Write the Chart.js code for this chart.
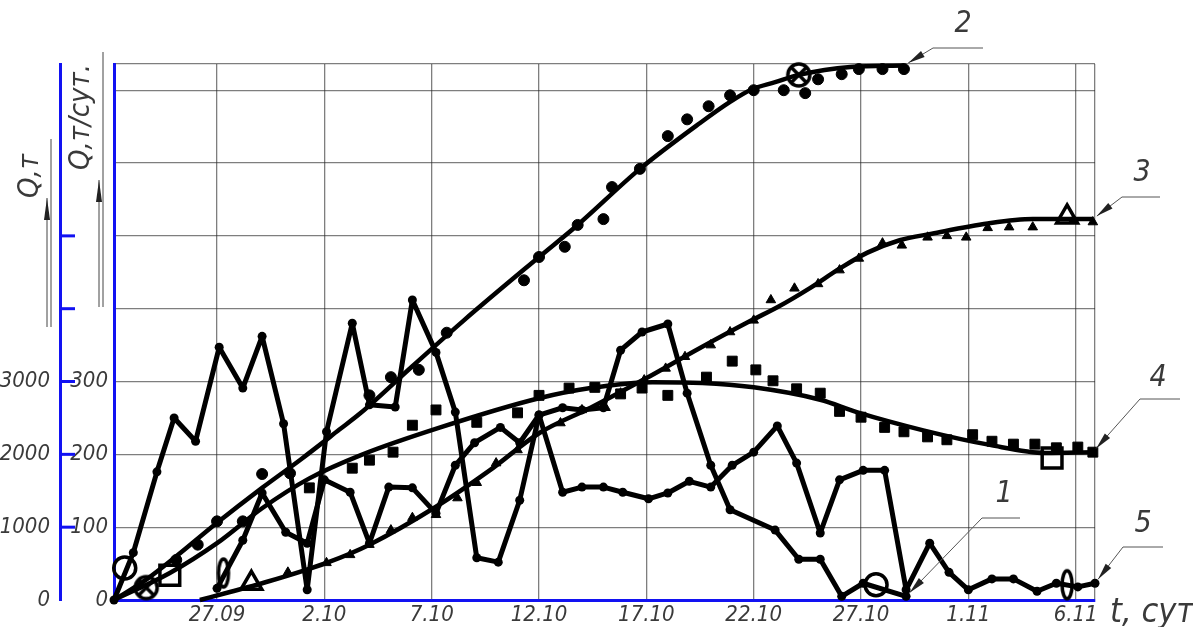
<!DOCTYPE html>
<html>
<head>
<meta charset="utf-8">
<script src="https://cdn.jsdelivr.net/npm/chart.js@4.4.1/dist/chart.umd.min.js"></script>
<style>
  html, body { margin: 0; padding: 0; background: #fff; }
  #wrap { position: relative; width: 1193px; height: 627px; }
</style>
</head>
<body>
<div id="wrap"><canvas id="chart"></canvas></div>
<script>
// days are counted from 22.09, values in т/сут (the outer Q,т axis is x10)
const dateTicks = [5, 10, 15, 20, 25, 30, 35, 40, 45];
const dateLabels = ['27.09', '2.10', '7.10', '12.10', '17.10', '22.10', '27.10', '1.11', '6.11'];
const rateTicks = [0, 100, 200, 300, 400, 500, 600, 700];
const massTicks = [0, 1000, 2000, 3000, 4000, 5000];
const massLabelled = [0, 1000, 2000, 3000];

// 1 - daily output
const s1Days = [0.2, 1.1, 2.2, 3.0, 4.0, 5.1, 6.2, 7.1, 8.1, 9.2, 10.1, 11.3, 12.1, 13.3, 14.1, 15.2, 16.1, 17.1, 18.1, 19.1,
                20.0, 21.1, 22.0, 23.0, 23.8, 24.8, 26.0, 26.9, 28.0, 28.9, 31.0, 32.1, 33.1, 34.1, 35.1, 37.1];
const s1Vals = [0, 65, 176, 250, 218, 347, 291, 362, 242, 14, 231, 380, 268, 265, 412, 340, 258, 58, 52, 137,
                254, 264, 261, 264, 343, 368, 379, 284, 185, 124, 96, 56, 56, 5, 23, 5];

// 5 - daily output, second run
const s5Days = [5.0, 6.2, 7.1, 8.2, 9.2, 10.0, 11.2, 12.1, 13.0, 14.1, 15.2, 16.1, 17.0, 18.2, 19.1, 20.0, 21.1, 22.0, 23.0, 23.9,
                25.1, 26.0, 27.0, 28.0, 29.0, 30.0, 31.1, 32.0, 33.1, 34.0, 35.1, 36.1, 37.1, 38.2, 39.1, 40.0, 41.1, 42.1, 43.2, 44.1, 45.1, 45.9];
const s5Vals = [16, 82, 147, 93, 78, 165, 148, 78, 155, 154, 119, 185, 216, 237, 216, 254, 148, 155, 155, 148,
                139, 147, 163, 155, 185, 203, 239, 188, 92, 165, 178, 178, 14, 78, 38, 14, 29, 29, 12, 23, 18, 23];

// 2 - cumulative, fitted curve and measured points
const c2Days = [0.2, 1.7, 3.1, 5.0, 7.1, 8.9, 10.7, 11.7, 14.1, 16.5, 20.0, 21.8, 24.7, 27.5, 28.9, 29.9, 31.0, 32.1, 34.5, 37.0];
const c2Vals = [0, 28, 60, 106, 154, 193, 234, 257, 321, 384, 471, 515, 592, 655, 684, 701, 711, 721, 732, 734];
const d2Days = [3.1, 4.1, 5.0, 6.2, 7.1, 8.4, 12.1, 13.1, 14.4, 15.7, 19.3, 20.0, 21.2, 21.8, 23.0, 23.4, 24.7, 26.0, 26.9, 27.9,
                28.9, 30.0, 31.4, 32.4, 33.0, 34.1, 34.9, 36.0, 37.0];
const d2Vals = [55, 76, 108, 108, 173, 174, 281, 306, 316, 367, 439, 471, 485, 515, 523, 567, 592, 637, 660, 678,
                693, 700, 700, 696, 715, 722, 729, 729, 729];

// 3 - cumulative, fitted curve and measured points
const c3Days = [4.2, 5.6, 7.1, 10.1, 12.1, 15.2, 17.7, 20.0, 22.4, 24.9, 27.5, 29.9, 31.1, 32.6, 34.0, 35.3, 36.8, 38.3, 40.9, 43.0, 45.8];
const c3Vals = [0, 11, 23, 51, 76, 128, 178, 229, 264, 303, 346, 384, 402, 428, 455, 477, 494, 503, 517, 523, 523];
const d3Days = [8.3, 10.1, 11.2, 12.1, 13.1, 14.1, 15.2, 16.2, 17.1, 18.0, 19.0, 21.0, 22.0, 23.1, 23.8, 24.9, 25.9, 26.8, 28.0, 28.9,
                30.0, 30.8, 31.9, 33.0, 34.0, 34.9, 36.0, 36.9, 38.1, 39.0, 39.9, 40.9, 41.9, 43.0, 44.9, 45.8];
const d3Vals = [38, 51, 62, 76, 96, 113, 117, 140, 161, 188, 206, 243, 261, 264, 284, 302, 318, 334, 350, 368,
                384, 412, 428, 434, 453, 469, 490, 487, 498, 500, 498, 511, 512, 512, 522, 519];

// 4 - fitted curve and measured points
const c4Days = [0.2, 2.8, 5.0, 7.1, 9.3, 11.7, 15.4, 20.0, 22.4, 25.3, 27.6, 30.0, 33.1, 34.8, 37.9, 41.0, 43.6, 45.8];
const c4Vals = [0, 37, 78, 126, 167, 199, 237, 277, 291, 299, 298, 292, 275, 258, 233, 213, 202, 203];
const d4Days = [9.3, 11.3, 12.1, 13.2, 14.1, 15.2, 17.1, 19.0, 20.0, 21.4, 22.6, 23.8, 24.8, 26.0, 27.8, 29.0, 30.1, 30.9, 32.0, 33.1,
                34.0, 35.0, 36.1, 37.0, 38.1, 39.0, 40.2, 41.1, 42.1, 43.1, 44.1, 45.1, 45.8];
const d4Vals = [154, 181, 192, 203, 240, 261, 244, 257, 281, 291, 292, 283, 291, 281, 306, 328, 316, 301, 290, 284,
                259, 251, 237, 231, 224, 220, 227, 218, 214, 214, 209, 210, 203];

// curve symbols at the start and end of each line
const m1Days = [0.7, 35.7], m1Vals = [44, 21];
const m2Days = [1.7, 32.1], m2Vals = [17, 721];
const m3Days = [6.6, 44.6], m3Vals = [23, 526];
const m4Days = [2.8, 43.9], m4Vals = [34, 195];
const m5Days = [5.3, 44.6], m5Vals = [37, 21];

const BLUE = '#1212f2';
const INK = '#000';
const TEXT = '#3a3a3a';
const FONT = "'Liberation Sans Narrow', 'DejaVu Sans Condensed', sans-serif";

const pts = (xs, ys) => xs.map((x, i) => ({ x, y: ys[i] }));

function symbolCanvas(draw, w, h) {
    const c = document.createElement('canvas');
    c.width = w; c.height = h;
    const g = c.getContext('2d');
    g.strokeStyle = INK; g.lineWidth = 3.5;
    draw(g, w / 2, h / 2);
    return c;
}
const otimes = symbolCanvas((g, cx, cy) => {
    g.beginPath(); g.arc(cx, cy, 11, 0, Math.PI * 2); g.stroke();
    g.beginPath();
    g.moveTo(cx - 8, cy - 8); g.lineTo(cx + 8, cy + 8);
    g.moveTo(cx + 8, cy - 8); g.lineTo(cx - 8, cy + 8);
    g.stroke();
}, 28, 28);
const lens = symbolCanvas((g, cx, cy) => {
    g.beginPath(); g.ellipse(cx, cy, 5, 14, 0, 0, Math.PI * 2); g.stroke();
}, 16, 34);

const zigzag = (days, vals) => ({
    data: pts(days, vals), borderColor: INK, borderWidth: 5, tension: 0, borderJoinStyle: 'round',
    pointRadius: 4.5, pointBackgroundColor: INK, pointBorderWidth: 0, clip: false
});
const curve = (days, vals) => ({
    data: pts(days, vals), borderColor: INK, borderWidth: 4.5,
    cubicInterpolationMode: 'monotone', pointRadius: 0, clip: false
});
const dots = (days, vals, style, r) => ({
    data: pts(days, vals), showLine: false, pointStyle: style, pointRadius: r,
    pointBackgroundColor: INK, pointBorderColor: INK, pointBorderWidth: 1, clip: false
});
const symbol = (days, vals, style, r) => ({
    data: pts(days, vals), showLine: false, pointStyle: style, pointRadius: r,
    pointBackgroundColor: 'rgba(0,0,0,0)', pointBorderColor: INK, pointBorderWidth: 3.5, clip: false
});

function arrow(ctx, x0, y0, x1, y1, len, half) {
    ctx.beginPath(); ctx.moveTo(x0, y0); ctx.lineTo(x1, y1); ctx.stroke();
    const a = Math.atan2(y1 - y0, x1 - x0);
    const bx = x1 - len * Math.cos(a), by = y1 - len * Math.sin(a);
    ctx.beginPath();
    ctx.moveTo(x1, y1);
    ctx.lineTo(bx + half * Math.sin(a), by - half * Math.cos(a));
    ctx.lineTo(bx - half * Math.sin(a), by + half * Math.cos(a));
    ctx.closePath(); ctx.fill();
}

// leader lines: shelf [x0, x1, y], number position
const callouts = [
    { text: '2', days: c2Days, vals: c2Vals, shelf: [933, 983, 48], at: [963, 24] },
    { text: '3', days: c3Days, vals: c3Vals, shelf: [1122, 1160, 197], at: [1142, 173] },
    { text: '4', days: c4Days, vals: c4Vals, shelf: [1140, 1180, 399], at: [1158, 378] },
    { text: '1', days: s1Days, vals: s1Vals, shelf: [982, 1020, 518], at: [1004, 494] },
    { text: '5', days: s5Days, vals: s5Vals, shelf: [1123, 1163, 547], at: [1143, 524] },
];

const decor = {
    id: 'decor',
    afterDraw(chart) {
        const { ctx, scales } = chart;
        const x = scales.x, y = scales.y, yt = scales.yt;
        ctx.save();

        // short marks on the outer Q,т axis
        ctx.strokeStyle = BLUE; ctx.lineWidth = 3;
        massTicks.slice(1).forEach(v => {
            const py = yt.getPixelForValue(v);
            ctx.beginPath(); ctx.moveTo(yt.right - 1, py); ctx.lineTo(yt.right + 15, py); ctx.stroke();
        });

        // axis names
        ctx.fillStyle = TEXT;
        ctx.textAlign = 'center'; ctx.textBaseline = 'middle';
        ctx.font = `italic 29px ${FONT}`;
        [['Q,т', 30, 176], ['Q,т/сут.', 81, 117]].forEach(([t, tx, ty]) => {
            ctx.save(); ctx.translate(tx, ty); ctx.rotate(-Math.PI / 2); ctx.fillText(t, 0, 0); ctx.restore();
        });
        ctx.font = `italic 34px ${FONT}`;
        ctx.textAlign = 'left'; ctx.textBaseline = 'alphabetic';
        ctx.fillText('t, сут', 1110, 622);

        // direction arrows beside the axis names
        ctx.strokeStyle = '#444'; ctx.fillStyle = '#222'; ctx.lineWidth = 1;
        ctx.beginPath(); ctx.moveTo(51, 139); ctx.lineTo(51, 327); ctx.stroke();
        arrow(ctx, 47, 327, 47, 198, 22, 3);
        ctx.beginPath(); ctx.moveTo(103, 52); ctx.lineTo(103, 307); ctx.stroke();
        arrow(ctx, 99, 307, 99, 180, 22, 3);

        // numbered leaders
        callouts.forEach(c => {
            const n = c.days.length - 1;
            const px = x.getPixelForValue(c.days[n]), py = y.getPixelForValue(c.vals[n]);
            const [sx0, sx1, sy] = c.shelf;
            const a = Math.atan2(py - sy, px - sx0);
            const tx = px - 5 * Math.cos(a), ty = py - 5 * Math.sin(a);
            ctx.strokeStyle = '#555'; ctx.fillStyle = '#222'; ctx.lineWidth = 1;
            ctx.beginPath(); ctx.moveTo(sx1, sy); ctx.lineTo(sx0, sy); ctx.stroke();
            arrow(ctx, sx0, sy, tx, ty, 17, 3.5);
            ctx.fillStyle = TEXT;
            ctx.font = `italic 30px ${FONT}`;
            ctx.textAlign = 'center'; ctx.textBaseline = 'middle';
            ctx.fillText(c.text, c.at[0], c.at[1]);
        });
        ctx.restore();
    }
};

new Chart(document.getElementById('chart'), {
    type: 'line',
    data: {
        datasets: [
            symbol(m1Days, m1Vals, 'circle', 11),
            symbol(m2Days, m2Vals, otimes, 11),
            symbol(m3Days, m3Vals, 'triangle', 12),
            symbol(m4Days, m4Vals, 'rect', 14),
            symbol(m5Days, m5Vals, lens, 8),
            zigzag(s1Days, s1Vals),
            zigzag(s5Days, s5Vals),
            curve(c2Days, c2Vals),
            curve(c3Days, c3Vals),
            curve(c4Days, c4Vals),
            dots(d2Days, d2Vals, 'circle', 5.5),
            dots(d3Days, d3Vals, 'triangle', 5.5),
            dots(d4Days, d4Vals, 'rect', 7),
        ]
    },
    options: {
        responsive: true,
        maintainAspectRatio: false,
        animation: false,
        layout: { padding: { left: 0, right: 98, top: 64, bottom: 0 } },
        plugins: { legend: { display: false }, tooltip: { enabled: false } },
        scales: {
            x: {
                type: 'linear', min: 0.2, max: 45.9,
                afterFit: s => { s.height = 27; },
                afterBuildTicks: s => { s.ticks = [0.2, ...dateTicks, 45.9].map(v => ({ value: v })); },
                grid: { color: 'rgba(40,40,40,0.6)', lineWidth: 1.3, drawTicks: false },
                border: { color: BLUE, width: 3 },
                ticks: {
                    autoSkip: false, maxRotation: 0, padding: 2, color: TEXT,
                    font: { family: FONT, size: 22, style: 'italic' },
                    callback: v => { const i = dateTicks.indexOf(v); return i < 0 ? '' : dateLabels[i]; }
                }
            },
            y: {
                position: 'left', weight: 0, min: 0, max: 736,
                afterFit: s => { s.width = 54; },
                afterBuildTicks: s => { s.ticks = [...rateTicks, 736].map(v => ({ value: v })); },
                grid: { color: 'rgba(40,40,40,0.6)', lineWidth: 1.3, drawTicks: false },
                border: { color: BLUE, width: 3 },
                ticks: {
                    padding: 6, color: TEXT,
                    font: { family: FONT, size: 22, style: 'italic' },
                    callback: v => (v <= 300 ? String(v) : '')
                }
            },
            yt: {
                position: 'left', weight: 10, min: 0, max: 7360,
                afterFit: s => { s.width = 60; },
                afterBuildTicks: s => { s.ticks = massTicks.map(v => ({ value: v })); },
                grid: { drawOnChartArea: false, drawTicks: false },
                border: { color: BLUE, width: 3 },
                ticks: {
                    padding: 10, color: TEXT,
                    font: { family: FONT, size: 22, style: 'italic' },
                    callback: v => (massLabelled.includes(v) ? String(v) : '')
                }
            }
        }
    },
    plugins: [decor]
});
</script>
</body>
</html>
